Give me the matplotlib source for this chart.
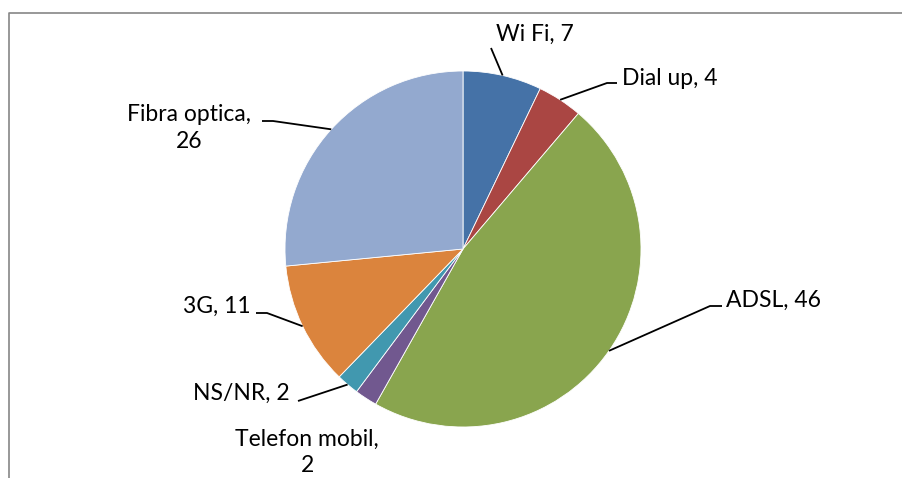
import numpy as np
import matplotlib
matplotlib.use("Agg")
import matplotlib.pyplot as plt
from matplotlib.lines import Line2D

categories = ["Wi Fi", "Dial up", "ADSL", "Telefon mobil", "NS/NR", "3G", "Fibra optica"]
values = [7, 4, 46, 2, 2, 11, 26]
colors = ["#4572A7", "#AA4643", "#89A54E", "#71588F", "#4198AF", "#DB843D", "#93A9CF"]

W, H = 902, 478
fig = plt.figure(figsize=(W / 100, H / 100), dpi=100)
ax = fig.add_axes([0, 0, 1, 1])
ax.set_xlim(0, W)
ax.set_ylim(0, H)
ax.set_aspect("equal")
ax.axis("off")

cx, cy, R = 463, H - 249, 178
ax.pie(values, colors=colors, startangle=90, counterclock=False,
       center=(cx, cy), radius=R,
       wedgeprops=dict(edgecolor="white", linewidth=0.6))
ax.set_xlim(0, W)
ax.set_ylim(0, H)

# frame (top and left edges visible)
ax.add_line(Line2D([9, 9, W], [0, H - 12.5, H - 12.5], color="#868686", lw=1.2))

# label layout (pixel coords, y from top): text position, alignment, elbow points
labels = [
    ("Wi Fi, 7", (535, 34), "center", [(491, 48)]),
    ("Dial up, 4", (622, 78), "left", [(607, 83), (617, 83)]),
    ("ADSL, 46", (726, 300), "left", [(710, 306), (722, 306)]),
    ("Telefon mobil,\n2", (307, 452), "center", None),
    ("NS/NR, 2", (290, 393), "right", [(298, 401)]),
    ("3G, 11", (251, 306), "right", [(267, 313), (256, 313)]),
    ("Fibra optica,\n26", (189, 128), "center", [(273, 121), (262, 121)]),
]

total = sum(values)
cum = np.cumsum([0] + values)
font = ["Lato", "DejaVu Sans"]
for i, (txt, (tx, ty), ha, pts) in enumerate(labels):
    mid = (cum[i] + values[i] / 2) / total * 2 * np.pi
    ex = cx + R * np.sin(mid)
    ey = cy + R * np.cos(mid)
    if pts:
        xs = [ex] + [p[0] for p in pts]
        ys = [ey] + [H - p[1] for p in pts]
        ax.plot(xs, ys, color="black", lw=1.3, solid_capstyle="butt")
    ax.text(tx, H - ty, txt, ha=ha, va="center", fontsize=16.5,
            family=font, color="black", linespacing=1.3, multialignment="center")

fig.savefig("out.png", dpi=100)
